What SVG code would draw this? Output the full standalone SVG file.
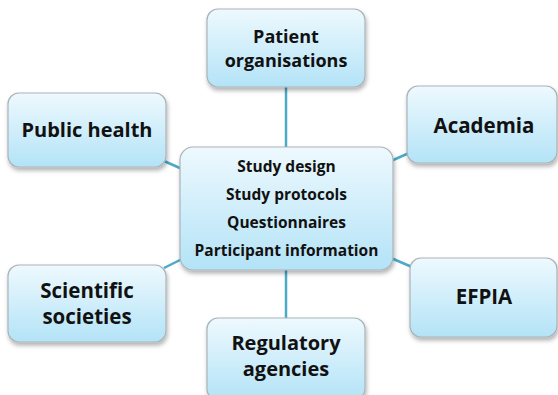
<svg xmlns="http://www.w3.org/2000/svg" width="558" height="395" viewBox="0 0 558 395">
<defs>
<linearGradient id="g" x1="0" y1="0" x2="0" y2="1">
<stop offset="0" stop-color="#eef9fe"/>
<stop offset="1" stop-color="#b3e3f7"/>
</linearGradient>
<filter id="sh" x="-10%" y="-10%" width="125%" height="130%">
<feDropShadow dx="1" dy="3" stdDeviation="2" flood-color="#000" flood-opacity="0.3"/>
</filter>
</defs>
<style>
.box{fill:url(#g);stroke:#a9b4b9;stroke-width:1.2;filter:url(#sh)}
.t{font-family:"Open Sans","Liberation Sans",sans-serif;font-weight:bold;fill:#111;text-anchor:middle}
.o{font-size:20.5px}
.p{font-size:18px}
.c{font-size:15.5px}
.ln{stroke:#4aaac8;stroke-width:2.5;fill:none}
</style>
<g id="connectors">
<line class="ln" x1="286" y1="87" x2="286" y2="148"/>
<line class="ln" x1="286" y1="269" x2="286" y2="319"/>
<line class="ln" x1="164" y1="161" x2="182" y2="169"/>
<line class="ln" x1="391" y1="161" x2="409" y2="153"/>
<line class="ln" x1="164" y1="268" x2="182" y2="259"/>
<line class="ln" x1="391" y1="258" x2="412" y2="267"/>
</g>
<g id="center">
<rect class="box" x="180" y="147" width="213" height="123" rx="13"/>
<text class="t c" x="286.5" y="172">Study design</text>
<text class="t c" x="286.5" y="200">Study protocols</text>
<text class="t c" x="286.5" y="228">Questionnaires</text>
<text class="t c" x="286.5" y="256">Participant information</text>
</g>
<g id="patient">
<rect class="box" x="207" y="9" width="158" height="78" rx="11"/>
<text class="t p" x="286" y="43">Patient</text>
<text class="t p" x="286" y="67">organisations</text>
</g>
<g id="public-health">
<rect class="box" x="8" y="93" width="158" height="74" rx="11"/>
<text class="t o" x="87" y="137" style="font-size:20px">Public health</text>
</g>
<g id="academia">
<rect class="box" x="407" y="86" width="150" height="77" rx="11"/>
<text class="t o" x="484" y="133">Academia</text>
</g>
<g id="scientific">
<rect class="box" x="8" y="265" width="158" height="77" rx="11"/>
<text class="t o" x="87" y="298">Scientific</text>
<text class="t o" x="87" y="324">societies</text>
</g>
<g id="efpia">
<rect class="box" x="410" y="258" width="147" height="79" rx="11"/>
<text class="t o" x="484" y="304">EFPIA</text>
</g>
<g id="regulatory">
<rect class="box" x="207" y="318" width="158" height="82" rx="11"/>
<text class="t o" x="286" y="350" style="font-size:20px">Regulatory</text>
<text class="t o" x="286" y="376" style="font-size:20px">agencies</text>
</g>
</svg>
